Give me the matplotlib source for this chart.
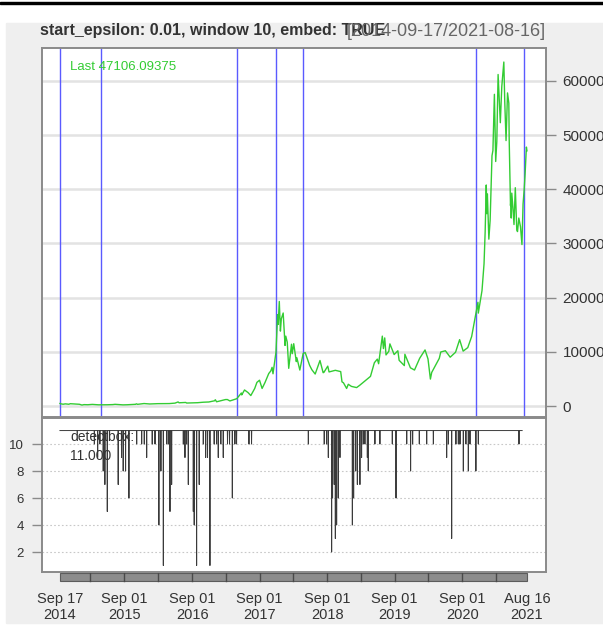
import pandas as pd
import matplotlib
matplotlib.use("Agg")
import matplotlib.pyplot as plt
import matplotlib.transforms as mtransforms
from matplotlib.patches import Rectangle

plt.rcParams["font.family"] = ["Liberation Sans", "DejaVu Sans"]

# BTC closing prices (USD)
price_dates = [
    "2014-09-17", "2014-09-22", "2014-10-04", "2014-10-16", "2014-11-04", "2014-11-12",
    "2014-12-01", "2014-12-31", "2015-01-14", "2015-01-25", "2015-02-15", "2015-03-11",
    "2015-04-14", "2015-05-31", "2015-06-30", "2015-07-12", "2015-08-24", "2015-09-15",
    "2015-10-31", "2015-11-04", "2015-11-11", "2015-12-16", "2016-01-15", "2016-02-28",
    "2016-04-30", "2016-05-31", "2016-06-17", "2016-06-22", "2016-07-28", "2016-08-02",
    "2016-09-30", "2016-10-31", "2016-11-30", "2016-12-31", "2017-01-04", "2017-01-11",
    "2017-02-28", "2017-03-10", "2017-03-24", "2017-04-30", "2017-05-25", "2017-05-27",
    "2017-06-11", "2017-06-30", "2017-07-15", "2017-08-05", "2017-08-17", "2017-08-31",
    "2017-09-14", "2017-09-30", "2017-10-20", "2017-10-31", "2017-11-07", "2017-11-12",
    "2017-11-28", "2017-12-07", "2017-12-10", "2017-12-16", "2017-12-22", "2017-12-27",
    "2018-01-06", "2018-01-16", "2018-01-20", "2018-01-28", "2018-02-05", "2018-02-20",
    "2018-02-24", "2018-03-04", "2018-03-18", "2018-03-21", "2018-04-06", "2018-04-24",
    "2018-05-05", "2018-05-29", "2018-06-10", "2018-06-28", "2018-07-24", "2018-08-10",
    "2018-08-14", "2018-09-04", "2018-09-11", "2018-10-15", "2018-11-13", "2018-11-20",
    "2018-11-28", "2018-12-15", "2018-12-24", "2019-01-10", "2019-02-07", "2019-02-24",
    "2019-04-02", "2019-04-23", "2019-05-14", "2019-05-30", "2019-06-06", "2019-06-26",
    "2019-07-02", "2019-07-09", "2019-07-16", "2019-07-31", "2019-08-06", "2019-08-29",
    "2019-09-18", "2019-09-25", "2019-10-23", "2019-10-26", "2019-11-25", "2019-12-17",
    "2020-01-14", "2020-02-12", "2020-02-28", "2020-03-12", "2020-03-19", "2020-04-29",
    "2020-05-07", "2020-06-01", "2020-06-27", "2020-07-26", "2020-08-17", "2020-09-05",
    "2020-09-30", "2020-10-21", "2020-11-05", "2020-11-24", "2020-11-26", "2020-12-16",
    "2020-12-27", "2021-01-02", "2021-01-08", "2021-01-11", "2021-01-14", "2021-01-22",
    "2021-01-29", "2021-02-08", "2021-02-13", "2021-02-21", "2021-02-28", "2021-03-06",
    "2021-03-13", "2021-03-25", "2021-04-02", "2021-04-13", "2021-04-18", "2021-04-25",
    "2021-05-03", "2021-05-10", "2021-05-12", "2021-05-19", "2021-05-21", "2021-05-23",
    "2021-05-26", "2021-06-01", "2021-06-07", "2021-06-14", "2021-06-22", "2021-06-26",
    "2021-07-03", "2021-07-12", "2021-07-20", "2021-07-26", "2021-08-01", "2021-08-06",
    "2021-08-13", "2021-08-16",
]
price_values = [
    457, 403, 328, 394, 325, 423,
    379, 320, 178, 253, 234, 296,
    219, 230, 263, 310, 210, 230,
    313, 403, 311, 455, 375, 432,
    448, 531, 753, 596, 655, 547,
    609, 698, 742, 963, 1154, 778,
    1190, 1194, 934, 1348, 2400, 2050,
    2960, 2480, 1930, 3230, 4360, 4760,
    3240, 4360, 6000, 6470, 7140, 5950,
    9950, 16880, 15060, 19300, 13830, 16100,
    17170, 11180, 12900, 11790, 6955, 11400,
    9660, 11500, 8200, 8900, 6640, 9700,
    9860, 7500, 6700, 5900, 8400, 6150,
    6200, 7360, 6290, 6590, 6350, 4460,
    4280, 3240, 4010, 3620, 3400, 3830,
    4880, 5470, 7990, 8660, 7800, 12900,
    10600, 12570, 9430, 10090, 11470, 9500,
    10200, 8430, 7460, 9550, 7050, 6640,
    8810, 10350, 8690, 4970, 6190, 8800,
    9970, 10200, 9010, 9930, 12250, 10130,
    10780, 12820, 15590, 19150, 17150, 21310,
    26270, 32130, 40800, 35500, 39150, 30800,
    34300, 46200, 47170, 57540, 45140, 48800,
    61200, 52300, 59000, 63500, 56200, 49000,
    57800, 55900, 49150, 37000, 37800, 34700,
    39300, 36700, 33500, 40300, 32500, 32200,
    34700, 33100, 29800, 37300, 39970, 42830,
    47800, 47106.09375,
]

# detected change points
break_dates = ["2014-09-17", "2015-04-25", "2017-04-29", "2017-11-26",
               "2018-04-25", "2020-11-12", "2021-08-02"]

# lower panel: detection count, 11 unless it drops
detect_start = "2014-09-17"
detect_end = "2021-07-21"
detect_level = 11
dip_dates = [
    "2015-03-22", "2015-04-09", "2015-04-21", "2015-05-09", "2015-05-18", "2015-05-31",
    "2015-07-29", "2015-08-16", "2015-08-25", "2015-09-07", "2015-09-25", "2015-11-06",
    "2015-12-03", "2015-12-17", "2015-12-30", "2016-01-29", "2016-02-13", "2016-03-05",
    "2016-03-16", "2016-03-29", "2016-04-16", "2016-04-25", "2016-05-04", "2016-05-13",
    "2016-07-15", "2016-07-24", "2016-08-02", "2016-08-11", "2016-09-07", "2016-09-12",
    "2016-09-25", "2016-10-09", "2016-10-31", "2016-11-13", "2016-11-23", "2016-12-06",
    "2016-12-29", "2017-01-11", "2017-01-20", "2017-02-03", "2017-02-16", "2017-03-11",
    "2017-03-22", "2017-04-06", "2017-04-20", "2017-04-29", "2017-07-05", "2017-07-19",
    "2018-05-22", "2018-08-16", "2018-08-29", "2018-09-07", "2018-09-25", "2018-09-30",
    "2018-10-09", "2018-10-15", "2018-10-22", "2018-10-31", "2018-11-09", "2019-01-15",
    "2019-01-22", "2019-02-02", "2019-02-11", "2019-02-25", "2019-03-06", "2019-03-15",
    "2019-03-24", "2019-04-06", "2019-04-11", "2019-05-17", "2019-06-13", "2019-08-19",
    "2019-09-08", "2019-11-05", "2019-11-26", "2019-12-07", "2020-01-12", "2020-02-21",
    "2020-03-28", "2020-06-08", "2020-06-17", "2020-07-05", "2020-07-28", "2020-08-10",
    "2020-08-19", "2020-09-06", "2020-09-20", "2020-10-03", "2020-10-12", "2020-11-13",
    "2020-11-26", "2021-07-04",
]
dip_values = [
    10, 9, 10, 8, 7, 5,
    7, 9, 8, 8, 6, 10,
    10, 10, 9, 10, 10, 4,
    8, 1, 10, 10, 5, 7,
    10, 9, 10, 7, 5, 4,
    1, 7, 10, 9, 9, 1,
    10, 10, 9, 10, 9, 10,
    10, 6, 10, 10, 10, 10,
    10, 10, 10, 9, 2, 6,
    7, 3, 4, 6, 9, 4,
    6, 8, 7, 7, 9, 10,
    10, 9, 8, 10, 10, 10,
    6, 10, 8, 10, 10, 10,
    10, 9, 10, 3, 10, 10,
    10, 8, 10, 8, 10, 8,
    10, 10,
]

# x-axis labels
tick_dates = ["2014-09-17", "2015-09-01", "2016-09-01", "2017-09-01",
              "2018-09-01", "2019-09-01", "2020-09-01", "2021-08-16"]
sep_dates = ["2015-03-01", "2015-09-01", "2016-03-01", "2016-09-01", "2017-03-01",
             "2017-09-01", "2018-03-01", "2018-09-01", "2019-03-01", "2019-09-01",
             "2020-03-01", "2020-09-01", "2021-03-01"]

title = "start_epsilon: 0.01, window 10, embed: TRUE"

W, H = 603, 635
green = "#33cc33"
frame = "#8a8a8a"

px = pd.to_datetime(price_dates)
detect = pd.Series(detect_level, index=pd.date_range(detect_start, detect_end), dtype=float)
detect[pd.to_datetime(dip_dates)] = dip_values

x0 = px[0] - pd.Timedelta(days=97)
x1 = px[0] + pd.Timedelta(days=2628)

fig = plt.figure(figsize=(W / 100, H / 100), dpi=100)
fig.patch.set_facecolor("white")
fig.add_artist(Rectangle((6 / W, 1 - 623 / H), 1 - 6 / W, 600 / H,
                         transform=fig.transFigure, color="#efefef", zorder=0))
fig.add_artist(Rectangle((0, 1 - 4.3 / H), 1, 2.6 / H,
                         transform=fig.transFigure, color="black", zorder=0))

ax1 = fig.add_axes([42 / W, 1 - 417 / H, 504 / W, 369 / H])
ax2 = fig.add_axes([42 / W, 1 - 572 / H, 504 / W, 154 / H])

# price panel
ax1.plot(px, price_values, color=green, lw=1.0, zorder=3)
for d in pd.to_datetime(break_dates):
    ax1.axvline(d, color="#5a5aff", lw=1.0, zorder=2)
ax1.set_xlim(x0, x1)
ax1.set_ylim(-2030, 66090)
ax1.set_yticks(range(0, 60001, 10000))
ax1.yaxis.tick_right()
ax1.grid(axis="y", color="#e3e3e3", lw=1.8, zorder=1)
ax1.set_xticks([])
ax1.tick_params(axis="y", length=7, width=1, color=frame, pad=5,
                labelsize=11, labelcolor="#333333")
ax1.text(28 / 504, 1 - 19 / 369, f"Last {price_values[-1]}", transform=ax1.transAxes,
         color=green, fontsize=9.5, va="center", ha="left")

# detection panel
ax2.plot(detect.index, detect.values, color="#3a3a3a", lw=0.7, zorder=3)
ax2.set_xlim(x0, x1)
ax2.set_ylim(0.52, 11.93)
ax2.set_yticks([2, 4, 6, 8, 10])
ax2.set_xticks([])
ax2.grid(axis="y", color="#c8c8c8", lw=0.8, ls=(0, (1.5, 2)), zorder=1)
ax2.tick_params(axis="y", length=7, width=1, color=frame, pad=6,
                labelsize=9.5, labelcolor="#333333")
ax2.text(28 / 504, 0.812, "detectbox:\n11.000", transform=ax2.transAxes,
         color="#333333", fontsize=10, va="center", ha="left", linespacing=1.45)

for ax in (ax1, ax2):
    ax.set_facecolor("white")
    for s in ax.spines.values():
        s.set_color(frame)
        s.set_linewidth(1.4)

# date bar under the lower panel
trans = mtransforms.blended_transform_factory(ax2.transData, ax2.transAxes)
bar_start, bar_end = pd.Timestamp(tick_dates[0]), pd.Timestamp(tick_dates[-1])
ax2.add_patch(Rectangle((bar_start, -9 / 154), bar_end - bar_start, 8 / 154,
                        transform=trans, facecolor="#8c8c8c", edgecolor="#5c5c5c",
                        lw=0.8, clip_on=False))
for d in pd.to_datetime(sep_dates):
    ax2.plot([d, d], [-9 / 154, -1 / 154], transform=trans, color="#4a4a4a",
             lw=1.0, clip_on=False)
for d in pd.to_datetime(tick_dates):
    ax2.text(d, -20 / 154, d.strftime("%b %d\n%Y"), transform=trans, ha="center",
             va="top", fontsize=10.5, color="#333333", linespacing=1.2)

fig.text(40 / W, 1 - 31 / H, title, fontsize=11.5, weight="bold",
         color="#333333", va="center", ha="left")
fig.text(546 / W, 1 - 31 / H, f"[{price_dates[0]}/{price_dates[-1]}]",
         fontsize=13, color="#666666", va="center", ha="right")

fig.savefig("out.png", dpi=100)
